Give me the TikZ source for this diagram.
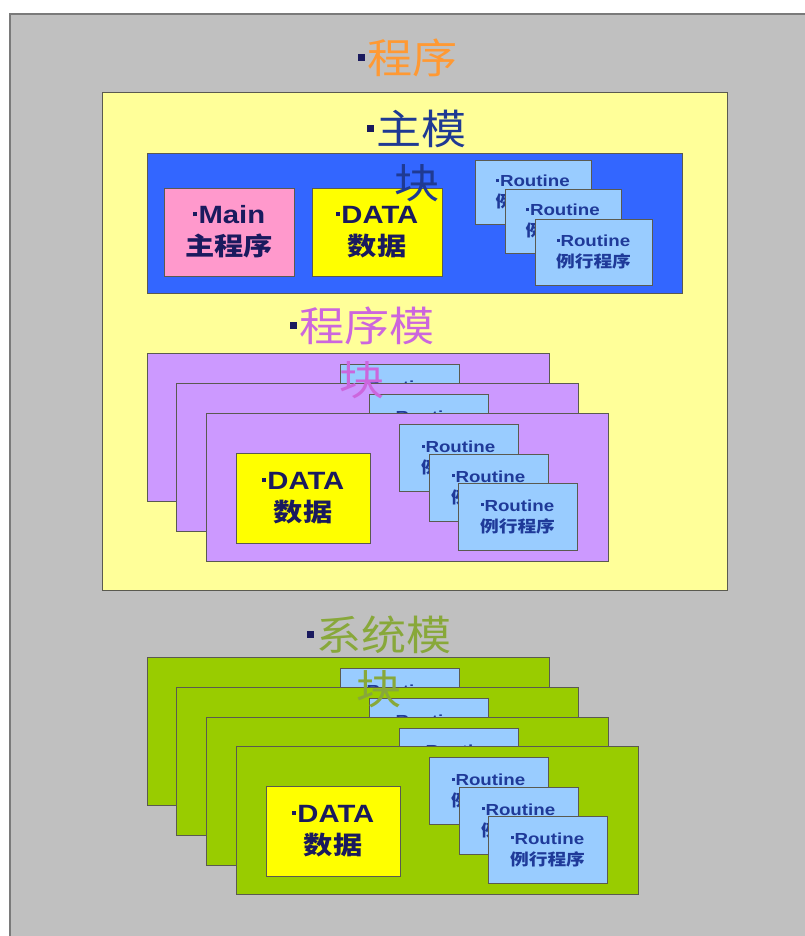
\documentclass[tikz,border=0pt]{standalone}
\usepackage{fontspec}
\setmainfont{Liberation Sans}[FakeStretch=1.17]
\newfontfamily\cjk{Noto Sans CJK SC}[FakeStretch=1.17]
\newfontfamily\cjkt{Noto Sans CJK SC}[FakeStretch=1.1]
\definecolor{bgc}{HTML}{C0C0C0}
\definecolor{bgline}{HTML}{7A7A7A}
\definecolor{yelc}{HTML}{FFFF99}
\definecolor{bluc}{HTML}{3366FF}
\definecolor{pinkc}{HTML}{FF99CC}
\definecolor{datc}{HTML}{FFFF00}
\definecolor{routc}{HTML}{99CCFF}
\definecolor{purpc}{HTML}{CC99FF}
\definecolor{grnc}{HTML}{99CC00}
\definecolor{orangec}{HTML}{FF9933}
\definecolor{tmain}{HTML}{1F3A93}
\definecolor{tprog}{HTML}{CC66DD}
\definecolor{tsys}{HTML}{88A83A}
\definecolor{navyc}{HTML}{1A1A5E}
\definecolor{routtext}{HTML}{1F3A99}
\definecolor{edgec}{HTML}{5A5A50}
\newcommand{\bul}[1]{\textcolor{#1}{\rule[0.3em]{0.17em}{0.17em}}\hspace{0.06em}}
\tikzset{
  box/.style={draw=edgec, line width=0.9pt, inner sep=0pt, outer sep=0pt, align=center},
  cardbox/.style={box, fill=#1, minimum width=402pt, minimum height=148pt},
  databox/.style={box, fill=datc, minimum width=134pt, minimum height=90pt,
     text=navyc, font=\fontsize{25}{32}\selectfont\bfseries},
  mainbox/.style={box, fill=pinkc, minimum width=130pt, minimum height=88pt,
     text=navyc, font=\fontsize{25}{32}\selectfont\bfseries},
  routbox/.style={box, fill=routc, minimum width=119pt, minimum height=67pt,
     text=routtext, font=\fontsize{16}{21}\selectfont\bfseries},
  titletext/.style={inner sep=0pt, align=center, font=\fontsize{41}{54}\selectfont\cjkt}
}
\newcommand{\rtext}{\bul{routtext}Routine\\{\cjk 例行程序}}
\newcommand{\modcard}[4]{%
  \begin{scope}[shift={(#2,#3)}]
    \node[cardbox=#4] (#1) at (201,74) {};
    \node[databox] (#1data) at (97,85) {\bul{navyc}DATA\\{\cjk\bfseries 数据}};
    \node[routbox] (#1ra) at (252.5,45) {\rtext};
    \node[routbox] (#1rb) at (282.5,74.5) {\rtext};
    \node[routbox] (#1rc) at (311.5,103.5) {\rtext};
  \end{scope}}
\begin{document}
\begin{tikzpicture}[x=1pt, y=-1pt]
\useasboundingbox (0,0) rectangle (804,936);
\fill[white] (0,0) rectangle (804,936);
\draw[fill=bgc, draw=bgline, line width=1.2pt] (10,14) rectangle (820,950);
% program container
\node[box, fill=yelc, draw=edgec, minimum width=625pt, minimum height=498pt] (prog) at (414.5,341) {};
% main module
\node[box, fill=bluc, minimum width=535pt, minimum height=140pt] (mainmod) at (414.5,223) {};
\node[mainbox] (mainprog) at (229,232) {\bul{navyc}Main\\{\cjk\bfseries 主程序}};
\node[databox, minimum width=130pt, minimum height=88pt] (maindata) at (377,232) {\bul{navyc}DATA\\{\cjk\bfseries 数据}};
\node[routbox, minimum width=116pt, minimum height=64pt] (mra) at (533,192.5) {\rtext};
\node[routbox, minimum width=116pt, minimum height=64pt] (mrb) at (563,221.5) {\rtext};
\node[routbox, minimum width=117pt, minimum height=66pt] (mrc) at (593.5,252) {\rtext};
% program module cards
\modcard{pa}{147}{353}{purpc}
\modcard{pb}{176}{383}{purpc}
\modcard{pc}{206}{413}{purpc}
% system module cards
\modcard{sa}{147}{657}{grnc}
\modcard{sb}{176}{687}{grnc}
\modcard{sc}{206}{717}{grnc}
\modcard{sd}{236}{746}{grnc}
% titles
\node[titletext, text=orangec] (ttop) at (408,58) {\bul{navyc}程序};
\node[titletext, text=tmain] (tmain) at (417,156) {\bul{navyc}主模\\块};
\node[titletext, text=tprog] (tprog) at (362,353) {\bul{navyc}程序模\\块};
\node[titletext, text=tsys] (tsys) at (379,662) {\bul{navyc}系统模\\块};
\end{tikzpicture}
\end{document}
